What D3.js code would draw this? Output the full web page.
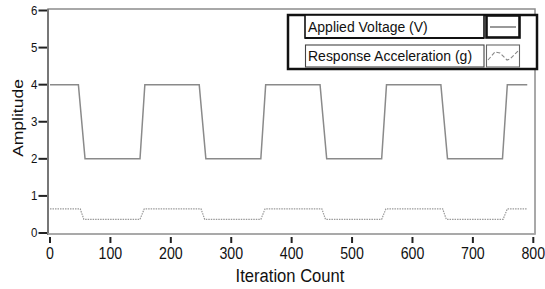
<!DOCTYPE html>
<html><head><meta charset="utf-8">
<script src="https://cdn.jsdelivr.net/npm/d3@7"></script>
<style>body{margin:0;background:#fff}svg{display:block}text{font-family:"Liberation Sans",Arial,sans-serif;fill:#111}</style>
</head><body>
<script>
// Data
const voltageX = [0,47,58,149,157,247,258,349,357,447,458,549,557,647,658,749,757,790];
const voltageY = [4,4,2,2,4,4,2,2,4,4,2,2,4,4,2,2,4,4];
const accelX = [0,50,56,149,156,250,256,349,356,450,456,549,556,650,656,750,757,790];
const accelY = [0.65,0.65,0.37,0.37,0.65,0.65,0.37,0.37,0.65,0.65,0.37,0.37,0.65,0.65,0.37,0.37,0.65,0.65];
const xTicks = [0,100,200,300,400,500,600,700,800];
const yTicks = [0,1,2,3,4,5,6];
const seriesNames = ["Applied Voltage (V)","Response Acceleration (g)"];
const xTitle = "Iteration Count", yTitle = "Amplitude";

const W=545,H=289;
const svg=d3.select("body").append("svg").attr("width",W).attr("height",H);
const x=d3.scaleLinear().domain([0,800]).range([50,533.3]);
const y=d3.scaleLinear().domain([0,6]).range([233,10.5]);

// frame
svg.append("rect").attr("x",48).attr("y",9).attr("width",487).attr("height",225)
  .attr("fill","none").attr("stroke","#8c8c8c").attr("stroke-width",1.5);
svg.append("line").attr("x1",48).attr("x2",48).attr("y1",9).attr("y2",235).attr("stroke","#777").attr("stroke-width",2);
svg.append("line").attr("x1",48).attr("x2",535).attr("y1",234).attr("y2",234).attr("stroke","#aaa").attr("stroke-width",1.5);

// y axis (ticks drawn through the scale)
const gy=svg.append("g").attr("class","yaxis");
const yt=gy.selectAll("g").data(yTicks).join("g").attr("transform",d=>`translate(0,${y(d)})`);
yt.append("line").attr("x1",38.5).attr("x2",47).attr("y1",0).attr("y2",0).attr("stroke","#222").attr("stroke-width",2);
yt.append("text").attr("text-anchor","end").attr("dominant-baseline","central")
  .attr("transform","translate(37.5,0) scale(1,1.15)").attr("font-size",11.5).text(d=>d);

// x axis
const gx=svg.append("g").attr("class","xaxis");
const xt=gx.selectAll("g").data(xTicks).join("g").attr("transform",d=>`translate(${x(d)},0)`);
xt.append("line").attr("x1",0).attr("x2",0).attr("y1",237).attr("y2",243).attr("stroke","#222").attr("stroke-width",2);
xt.append("text").attr("text-anchor","middle")
  .attr("transform","translate(0,258.5) scale(1,1.16)").attr("font-size",14.2).text(d=>d);

// titles
svg.append("text").attr("transform","translate(290,281.5) scale(1,1.15)")
  .attr("text-anchor","middle").attr("font-size",16.6).text(xTitle);
svg.append("text").attr("transform","translate(23,118) rotate(-90) scale(1.25,1)")
  .attr("text-anchor","middle").attr("font-size",14).text(yTitle);

// lines
const line=d3.line().x(d=>x(d[0])).y(d=>y(d[1]));
svg.append("path").datum(voltageX.map((v,i)=>[v,voltageY[i]])).attr("d",line)
  .attr("fill","none").attr("stroke","#8a8a8a").attr("stroke-width",1.5);
svg.append("path").datum(accelX.map((v,i)=>[v,accelY[i]])).attr("d",line)
  .attr("fill","none").attr("stroke","#9a9a9a").attr("stroke-width",1.2).attr("stroke-dasharray","1.5,1");

// legend
const lg=svg.append("g");
lg.append("rect").attr("x",288).attr("y",15).attr("width",249).attr("height",54)
  .attr("fill","#fff").attr("stroke","#111").attr("stroke-width",2.5);
// row 1
lg.append("rect").attr("x",305).attr("y",15).attr("width",179).attr("height",23)
  .attr("fill","#fff").attr("stroke","#111").attr("stroke-width",1.6);
lg.append("line").attr("x1",305).attr("x2",484).attr("y1",38).attr("y2",38).attr("stroke","#111").attr("stroke-width",2.2);
lg.append("rect").attr("x",486.5).attr("y",15.5).attr("width",33).attr("height",22)
  .attr("fill","#fff").attr("stroke","#111").attr("stroke-width",2.6);
lg.append("line").attr("x1",490).attr("x2",516).attr("y1",27).attr("y2",27).attr("stroke","#777").attr("stroke-width",1.5);
// row 2
lg.append("rect").attr("x",305.5).attr("y",45).attr("width",178.5).attr("height",22)
  .attr("fill","#fff").attr("stroke","#444").attr("stroke-width",1.1);
lg.append("rect").attr("x",486.5).attr("y",45).attr("width",33).attr("height",22)
  .attr("fill","#fff").attr("stroke","#666").attr("stroke-width",1.1);
lg.append("path").attr("d","M488,60 L495,52 L500,53 L507,60 L510,59 L518,51")
  .attr("fill","none").attr("stroke","#888").attr("stroke-width",1.1).attr("stroke-dasharray","4,2");
lg.append("text").attr("transform","translate(308,32) scale(1,1.1)").attr("font-size",14).text(seriesNames[0]);
lg.append("text").attr("transform","translate(308,61) scale(1,1.1)").attr("font-size",14).text(seriesNames[1]);
</script>
</body></html>
